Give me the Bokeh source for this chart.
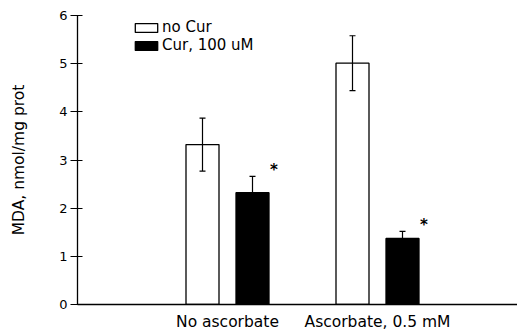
from bokeh.plotting import figure
from bokeh.models import Range1d, Whisker, ColumnDataSource, Legend, LegendItem, FixedTicker
from bokeh.core.properties import value
from bokeh.embed import file_html
from bokeh.resources import INLINE

groups = ["No ascorbate", "Ascorbate, 0.5 mM"]
series = ["no Cur", "Cur, 100 uM"]
no_cur = [3.32, 5.01]
no_cur_err = [0.55, 0.57]
cur = [2.32, 1.37]
cur_err = [0.34, 0.15]
significant = ["*", "*"]
y_ticks = [0, 1, 2, 3, 4, 5, 6]

FONT = "DejaVu Sans"
group_pos = [3, 6]
x_nc = [g - 0.5 for g in group_pos]
x_c = [g + 0.5 for g in group_pos]

p = figure(width=517, height=335, output_backend="svg", toolbar_location=None,
           x_range=Range1d(0, 8.8), y_range=Range1d(0, 6),
           min_border_left=77, min_border_right=0, min_border_top=15, min_border_bottom=31)
p.outline_line_color = None
p.xgrid.grid_line_color = None
p.ygrid.grid_line_color = None
p.background_fill_color = "white"

src_nc = ColumnDataSource(dict(x=x_nc, top=no_cur, up=[v + e for v, e in zip(no_cur, no_cur_err)],
                               lo=[v - e for v, e in zip(no_cur, no_cur_err)]))
src_c = ColumnDataSource(dict(x=x_c, top=cur, up=[v + e for v, e in zip(cur, cur_err)],
                              lo=[v - e for v, e in zip(cur, cur_err)]))

r_nc = p.vbar(x="x", top="top", bottom=0, width=0.66, source=src_nc,
              fill_color="white", line_color="black", line_width=1.3)
r_c = p.vbar(x="x", top="top", bottom=0, width=0.66, source=src_c,
             fill_color="black", line_color="black", line_width=1.3)

for s in (src_nc, src_c):
    w = Whisker(base="x", upper="up", lower="lo", source=s, line_color="black",
                line_width=1.2, level="overlay")
    w.upper_head.size = 6
    w.lower_head.size = 6
    w.upper_head.line_width = 1.2
    w.lower_head.line_width = 1.2
    p.add_layout(w)

star_src = ColumnDataSource(dict(x=[x + 0.43 for x in x_c],
                                 y=[v + e + 0.14 for v, e in zip(cur, cur_err)],
                                 t=significant))
p.text(x="x", y="y", text="t", source=star_src, text_font=value(FONT),
       text_font_size="15px", text_font_style="bold", text_align="center",
       text_baseline="middle", text_color="black")

legend = Legend(items=[LegendItem(label=series[0], renderers=[r_nc]),
                       LegendItem(label=series[1], renderers=[r_c])],
                location=(55, 250), glyph_width=28, glyph_height=11, label_height=17,
                spacing=0, padding=0, margin=0, label_standoff=2,
                label_text_font=FONT, label_text_font_size="15px", label_text_color="black",
                background_fill_alpha=0, border_line_color=None)
p.add_layout(legend)

p.yaxis.ticker = FixedTicker(ticks=y_ticks)
p.yaxis.axis_label = "MDA, nmol/mg prot"
p.yaxis.axis_label_text_font = FONT
p.yaxis.axis_label_text_font_size = "15.5px"
p.yaxis.axis_label_text_font_style = "normal"
p.yaxis.axis_label_text_color = "black"
p.yaxis.major_label_text_font = FONT
p.yaxis.major_label_text_font_size = "13px"
p.yaxis.major_label_text_color = "black"
p.yaxis.major_tick_in = 5
p.yaxis.major_tick_out = 7
p.yaxis.minor_tick_line_color = None
p.yaxis.major_label_standoff = 3
p.yaxis.axis_label_standoff = 28
p.yaxis.axis_line_width = 1.3
p.yaxis.axis_line_color = "black"
p.yaxis.major_tick_line_color = "black"

p.xaxis.ticker = FixedTicker(ticks=group_pos)
p.xaxis.major_label_overrides = {g: n for g, n in zip(group_pos, groups)}
p.xaxis.major_label_text_font = FONT
p.xaxis.major_label_text_font_size = "15.5px"
p.xaxis.major_label_text_color = "black"
p.xaxis.major_tick_line_color = None
p.xaxis.major_tick_in = 0
p.xaxis.major_tick_out = 0
p.xaxis.minor_tick_line_color = None
p.xaxis.minor_tick_in = 0
p.xaxis.minor_tick_out = 0
p.xaxis.major_label_standoff = 8
p.xaxis.axis_line_width = 1.5
p.xaxis.axis_line_color = "black"

open("out.html", "w").write(file_html(p, INLINE))
